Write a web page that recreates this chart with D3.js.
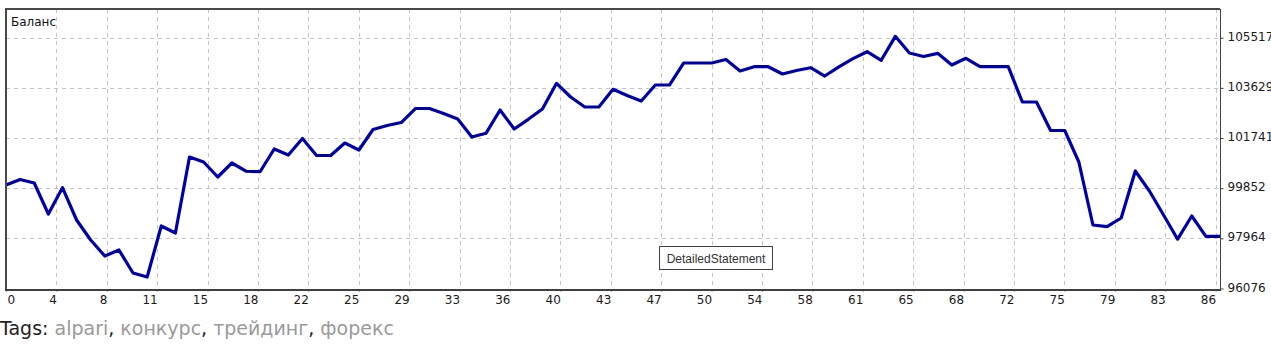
<!DOCTYPE html>
<html><head><meta charset="utf-8">
<script src="https://cdn.jsdelivr.net/npm/d3@7"></script>
<style>
body{margin:0;background:#fff;overflow:hidden;}
svg{display:block;}
</style>
</head><body>
<svg id="c" width="1271" height="352"></svg>
<script>
// ---- data ----
const balance = [
  99972,100179,100047,98880,99870,98654,97902,97299,97525,96659,
  96509,98429,98165,101026,100837,100273,100800,100490,100472,101327,
  101101,101722,101082,101082,101553,101289,102061,102211,102324,102851,
  102851,102663,102456,101778,101918,102795,102080,102445,102832,103800,
  103284,102908,102908,103574,103344,103134,103736,103736,104564,104564,
  104564,104696,104263,104425,104425,104150,104282,104387,104075,104421,
  104730,104989,104666,105569,104940,104808,104929,104489,104741,104425,
  104425,104425,103096,103096,102023,102023,100837,98466,98402,98730,
  100499,99746,98843,97932,98805,98041,98041
];
const xTickLabels = ["0","4","8","11","15","18","22","25","29","33","36","40","43","47","50","54","58","61","65","68","72","75","79","83","86"];
const yTickValues = [96076, 97964, 99852, 101741, 103629, 105517];
const seriesName = "Баланс";
const noteText = "DetailedStatement";
const tagsLabel = "Tags: ";
const tags = ["alpari", "конкурс", "трейдинг", "форекс"];

// ---- layout ----
const L = 6, R = 1220, T = 9, B = 289.5;
const gridStep = 50.4;
const svg = d3.select("#c");

const x = d3.scaleLinear().domain([0, balance.length - 1]).range([L, R]);
const gx = d3.scalePoint().domain(xTickLabels).range([L, L + (xTickLabels.length - 1) * gridStep]);
const y = d3.scaleLinear().domain([yTickValues[0], yTickValues[yTickValues.length - 1]]).range([288.5, 37.7]);

// grid
const grid = svg.append("g").attr("stroke", "#c4c4c4").attr("stroke-width", 1)
  .attr("stroke-dasharray", "4,4").attr("shape-rendering", "crispEdges");
grid.selectAll("line.v").data(xTickLabels.slice(1)).join("line").attr("class", "v")
  .attr("x1", d => Math.round(gx(d)) + 0.5).attr("x2", d => Math.round(gx(d)) + 0.5)
  .attr("y1", T).attr("y2", B);
grid.selectAll("line.h").data(yTickValues.slice(1)).join("line").attr("class", "h")
  .attr("x1", L).attr("x2", R)
  .attr("y1", d => Math.round(y(d)) + 0.5).attr("y2", d => Math.round(y(d)) + 0.5);

// line
svg.append("defs").append("clipPath").attr("id", "clip")
  .append("rect").attr("x", L).attr("y", T).attr("width", R - L).attr("height", B - T);
const line = d3.line().x((d, i) => x(i)).y(d => y(d));
svg.append("path").datum(balance).attr("d", line)
  .attr("clip-path", "url(#clip)")
  .attr("fill", "none").attr("stroke", "#0000a8").attr("stroke-width", 3.2)
  .attr("stroke-linejoin", "round");

// frame
const frame = svg.append("g").attr("shape-rendering", "crispEdges");
frame.append("line").attr("x1", L - 1).attr("x2", R).attr("y1", T).attr("y2", T).attr("stroke", "#484848").attr("stroke-width", 2);
frame.append("line").attr("x1", L).attr("x2", L).attr("y1", T).attr("y2", B).attr("stroke", "#484848").attr("stroke-width", 2);
frame.append("line").attr("x1", L - 1).attr("x2", R + 1).attr("y1", B).attr("y2", B).attr("stroke", "#404040").attr("stroke-width", 2);
frame.append("line").attr("x1", R + 0.5).attr("x2", R + 0.5).attr("y1", T).attr("y2", B + 1).attr("stroke", "#404040").attr("stroke-width", 1);

// right axis
const yAxis = d3.axisRight(y).tickValues(yTickValues).tickSize(3).tickPadding(5).tickFormat(d3.format("d"));
const ya = svg.append("g").attr("transform", `translate(${R + 0.5},0)`).call(yAxis);
ya.select(".domain").remove();
ya.selectAll(".tick line").attr("stroke", "#404040");
ya.selectAll(".tick text").attr("font-family", "DejaVu Sans").attr("font-size", 12)
  .attr("fill", "#1a1a1a").attr("dy", "0.22em").attr("x", 7);

// bottom axis
const xAxis = d3.axisBottom(gx).tickSize(2).tickPadding(4);
const xa = svg.append("g").attr("transform", `translate(0,${B})`).call(xAxis);
xa.select(".domain").remove();
xa.selectAll(".tick line").attr("stroke", "#404040");
xa.selectAll(".tick text").attr("font-family", "DejaVu Sans").attr("font-size", 12)
  .attr("fill", "#1a1a1a").attr("text-anchor", (d, i) => i === 0 ? "start" : "end")
  .attr("x", (d, i) => i === 0 ? 1 : 0).attr("y", 6).attr("dy", "0.71em");

// series name
svg.append("text").attr("x", 11).attr("y", 26).attr("font-family", "DejaVu Sans")
  .attr("font-size", 12).attr("fill", "#111").text(seriesName);

// note box
const nb = svg.append("g");
nb.append("rect").attr("x", 659.5).attr("y", 246.5).attr("width", 113).attr("height", 23)
  .attr("fill", "#fff").attr("stroke", "#404040").attr("stroke-width", 1);
nb.append("text").attr("x", 716).attr("y", 263).attr("text-anchor", "middle")
  .attr("font-family", "Liberation Sans").attr("font-size", 12).attr("fill", "#333").text(noteText);

// tags
const t = svg.append("text").attr("x", 0).attr("y", 335).attr("font-family", "DejaVu Sans")
  .attr("font-size", 19).attr("fill", "#222");
t.append("tspan").text(tagsLabel);
tags.forEach((tg, i) => {
  t.append("tspan").attr("fill", "#9a9a9a").text(tg);
  if (i < tags.length - 1) t.append("tspan").attr("fill", "#222").text(", ");
});
</script>
</body></html>
